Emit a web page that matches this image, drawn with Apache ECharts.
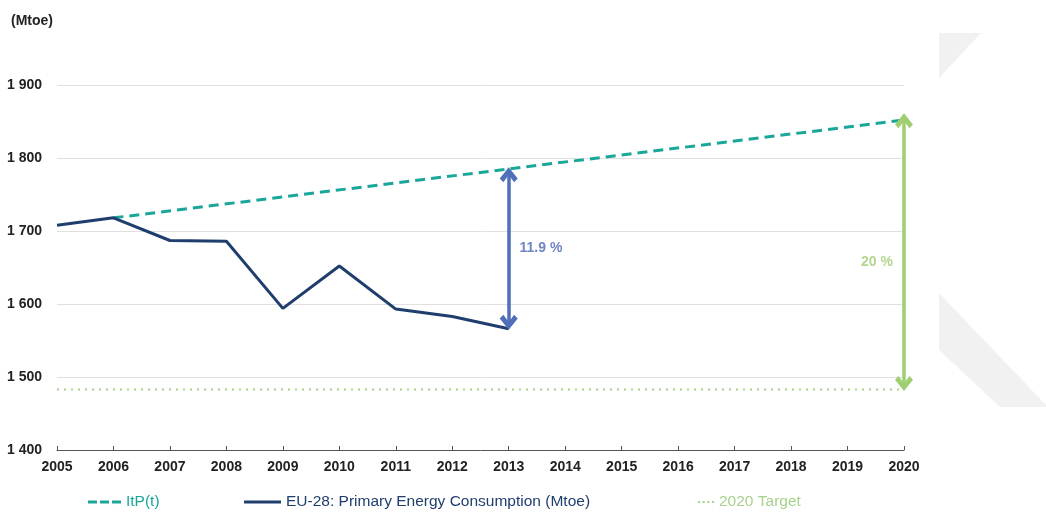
<!DOCTYPE html>
<html>
<head>
<meta charset="utf-8">
<script src="https://cdn.jsdelivr.net/npm/echarts@6/dist/echarts.min.js"></script>
<style>
  html, body { margin: 0; padding: 0; background: #fff; }
  #chart { width: 1046px; height: 513px; }
</style>
</head>
<body>
<div id="chart"></div>
<script>
// data
const years = [2005, 2006, 2007, 2008, 2009, 2010, 2011, 2012, 2013]
const consumption = [1708, 1718, 1687, 1686, 1594, 1652, 1593, 1583, 1566]
const itpYears = [2006, 2020]
const itpValues = [1718, 1852]
const targetYears = [2005, 2020]
const targetValues = [1483, 1483]
const gapArrow2013 = [1575, 1777]   // 11.9 % arrow
const gapArrow2020 = [1491, 1851]   // 20 % arrow

const font = 'Liberation Sans, Arial, sans-serif'
const navy = '#1f3e6e'
const teal = '#1aa79a'
const lightGreen = '#a9d18e'
const arrowBlue = '#4f6fb8'
const arrowGreen = '#9fcf72'

// open chevron head, pointing up
const chevron = 'path://M0,8 L7,0 L14,8 L11.2,10.6 L7,5.4 L2.8,10.6 Z'

const chart = echarts.init(document.getElementById('chart'))

const pairs = (xs, ys) => xs.map((x, i) => [x, ys[i]])

function legend(name, left, width, icon, color) {
    return {
        left: left,
        top: 494,
        padding: 0,
        itemWidth: width,
        itemHeight: 3,
        itemGap: 0,
        data: [{ name: name, icon: icon }],
        textStyle: { fontFamily: font, fontSize: 15.5, color: color },
        selectedMode: false
    }
}

chart.setOption({
    animation: false,
    title: {
        text: '(Mtoe)',
        left: 6,
        top: 9,
        textStyle: { fontFamily: font, fontSize: 14, fontWeight: 'bold', color: '#222' }
    },
    graphic: [
        // watermark shapes at the right
        { type: 'polygon', z: -10, shape: { points: [[939, 33], [981, 33], [939, 78]] }, style: { fill: '#f1f1f1' } },
        { type: 'polygon', z: -10, shape: { points: [[939, 293], [1046, 405], [1046, 407], [1000, 407], [939, 350]] }, style: { fill: '#f1f1f1' } }
    ],
    legend: [
        legend('ItP(t)', 88, 33, 'path://M0,0h9v3h-9z M12,0h9v3h-9z M24,0h9v3h-9z', teal),
        legend('EU-28: Primary Energy Consumption (Mtoe)', 244, 37, 'rect', navy),
        legend('2020 Target', 698, 16, 'path://M0,0h2v2h-2z M4.5,0h2v2h-2z M9,0h2v2h-2z M13.5,0h2v2h-2z', lightGreen)
    ],
    grid: { left: 57, right: 142, top: 85, bottom: 63 },
    xAxis: {
        type: 'value',
        min: 2005,
        max: 2020,
        interval: 1,
        axisLine: { lineStyle: { color: '#555', width: 1 } },
        axisTick: { inside: true, length: 4, lineStyle: { color: '#555' } },
        axisLabel: {
            fontFamily: font, fontSize: 14, fontWeight: 'bold', color: '#222', margin: 10,
            formatter: v => String(v)
        },
        splitLine: { show: false }
    },
    yAxis: {
        type: 'value',
        min: 1400,
        max: 1900,
        interval: 100,
        axisLine: { show: false },
        axisTick: { show: false },
        axisLabel: {
            fontFamily: font, fontSize: 14, fontWeight: 'bold', color: '#222', margin: 15,
            formatter: v => String(v).replace(/^(\d)(\d{3})$/, '$1 $2')
        },
        splitLine: { lineStyle: { color: '#e0e0e0', width: 1 } }
    },
    series: [
        {
            name: 'ItP(t)',
            type: 'line',
            symbol: 'none',
            data: pairs(itpYears, itpValues),
            lineStyle: { color: teal, width: 3, type: [10, 6] },
            itemStyle: { color: teal },
            z: 3
        },
        {
            name: 'EU-28: Primary Energy Consumption (Mtoe)',
            type: 'line',
            symbol: 'none',
            data: pairs(years, consumption),
            lineStyle: { color: navy, width: 3 },
            itemStyle: { color: navy },
            z: 4,
            markLine: {
                silent: true,
                symbol: [chevron, chevron],
                symbolSize: [18, 15],
                label: { show: false },
                lineStyle: { color: arrowBlue, width: 3.5, type: 'solid' },
                data: [[{ coord: [2013, gapArrow2013[0]] }, { coord: [2013, gapArrow2013[1]] }]]
            },
            markPoint: {
                silent: true,
                symbol: 'circle',
                symbolSize: 0,
                data: [{ coord: [2013.57, 1676], value: '11.9 %' }],
                label: { show: true, fontFamily: font, fontSize: 14, fontWeight: 'bold', color: '#7085c4', formatter: '{c}' }
            }
        },
        {
            name: '2020 Target',
            type: 'line',
            symbol: 'none',
            data: pairs(targetYears, targetValues),
            lineStyle: { color: lightGreen, width: 2, type: [2, 5] },
            itemStyle: { color: lightGreen },
            z: 2,
            markLine: {
                silent: true,
                symbol: [chevron, chevron],
                symbolSize: [18, 15],
                label: { show: false },
                lineStyle: { color: arrowGreen, width: 3.5, type: 'solid' },
                data: [[{ coord: [2020, gapArrow2020[0]] }, { coord: [2020, gapArrow2020[1]] }]]
            },
            markPoint: {
                silent: true,
                symbol: 'circle',
                symbolSize: 0,
                data: [{ coord: [2019.52, 1658], value: '20 %' }],
                label: { show: true, fontFamily: font, fontSize: 14, fontWeight: 'bold', color: '#b3d68f', formatter: '{c}' }
            }
        }
    ]
})
</script>
</body>
</html>
